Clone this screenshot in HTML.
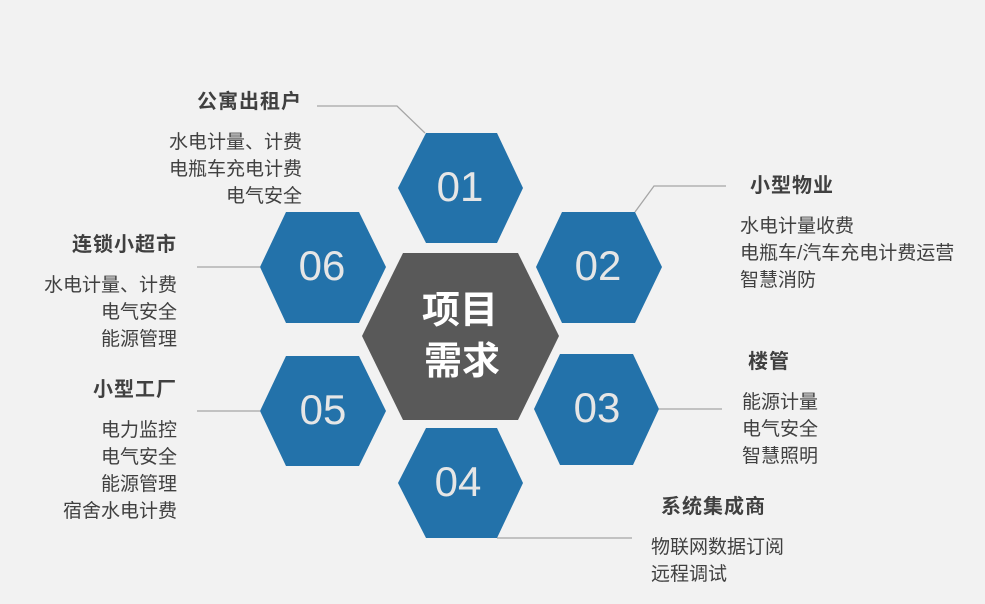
<!DOCTYPE html>
<html><head><meta charset="utf-8"><style>
body{margin:0;width:985px;height:604px;background:#f2f2f2;position:relative;overflow:hidden;font-family:"Liberation Sans","Noto Sans CJK SC",sans-serif;}
.t{position:absolute;color:#404040;font-size:19px;line-height:27px;white-space:nowrap}
.t b{display:block;font-size:20px;letter-spacing:1px;margin-bottom:13px;line-height:27px}
.r{text-align:right}
</style></head><body>
<svg width="985" height="604" style="position:absolute;left:0;top:0">
<g stroke="#a6a6a6" stroke-width="1.3" fill="none">
<polyline points="317,106 397,106 425,133"/>
<polyline points="635,212 654,186 726,186"/>
<line x1="197" y1="267" x2="260" y2="267"/>
<line x1="197" y1="411" x2="260" y2="411"/>
<line x1="659" y1="409" x2="722" y2="409"/>
<line x1="497" y1="538" x2="632" y2="538"/>
</g>
<g fill="#2372aa">
<polygon points="426,133 497,133 523,188 497,243 426,243 398,188"/>
<polygon points="562,212 635,212 662,267 635,323 562,323 536,267"/>
<polygon points="286,212 359,212 386,267 359,323 286,323 260,267"/>
<polygon points="286,356 359,356 386,411 359,466 286,466 260,411"/>
<polygon points="560,354 633,354 659,409 633,465 560,465 534,409"/>
<polygon points="426,428 497,428 523,483 497,538 426,538 398,483"/>
</g>
<polygon fill="#595959" points="403,253 518,253 559,336 518,420 403,420 362,336"/>
<g fill="#e6e6e6" font-family="Liberation Sans,sans-serif" font-size="42" text-anchor="middle">
<text x="460" y="201">01</text>
<text x="598" y="280">02</text>
<text x="322" y="280">06</text>
<text x="323" y="424">05</text>
<text x="597" y="422">03</text>
<text x="458" y="496">04</text>
</g>
<g fill="#fff" font-family="Liberation Sans,Noto Sans CJK SC,sans-serif" font-size="38" font-weight="bold" text-anchor="middle">
<text x="460" y="323">项目</text>
<text x="462" y="374">需求</text>
</g>
</svg>
<div class="t r" style="right:683px;top:89px"><b>公寓出租户</b>水电计量、计费<br>电瓶车充电计费<br>电气安全</div>
<div class="t r" style="right:808px;top:232px"><b>连锁小超市</b>水电计量、计费<br>电气安全<br>能源管理</div>
<div class="t r" style="right:808px;top:377px"><b>小型工厂</b>电力监控<br>电气安全<br>能源管理<br>宿舍水电计费</div>
<div class="t" style="left:740px;top:173px"><b style="margin-left:10px">小型物业</b>水电计量收费<br>电瓶车/汽车充电计费运营<br>智慧消防</div>
<div class="t" style="left:742px;top:349px"><b style="margin-left:6px">楼管</b>能源计量<br>电气安全<br>智慧照明</div>
<div class="t" style="left:651px;top:494px"><b style="margin-left:10px">系统集成商</b>物联网数据订阅<br>远程调试</div>
</body></html>
